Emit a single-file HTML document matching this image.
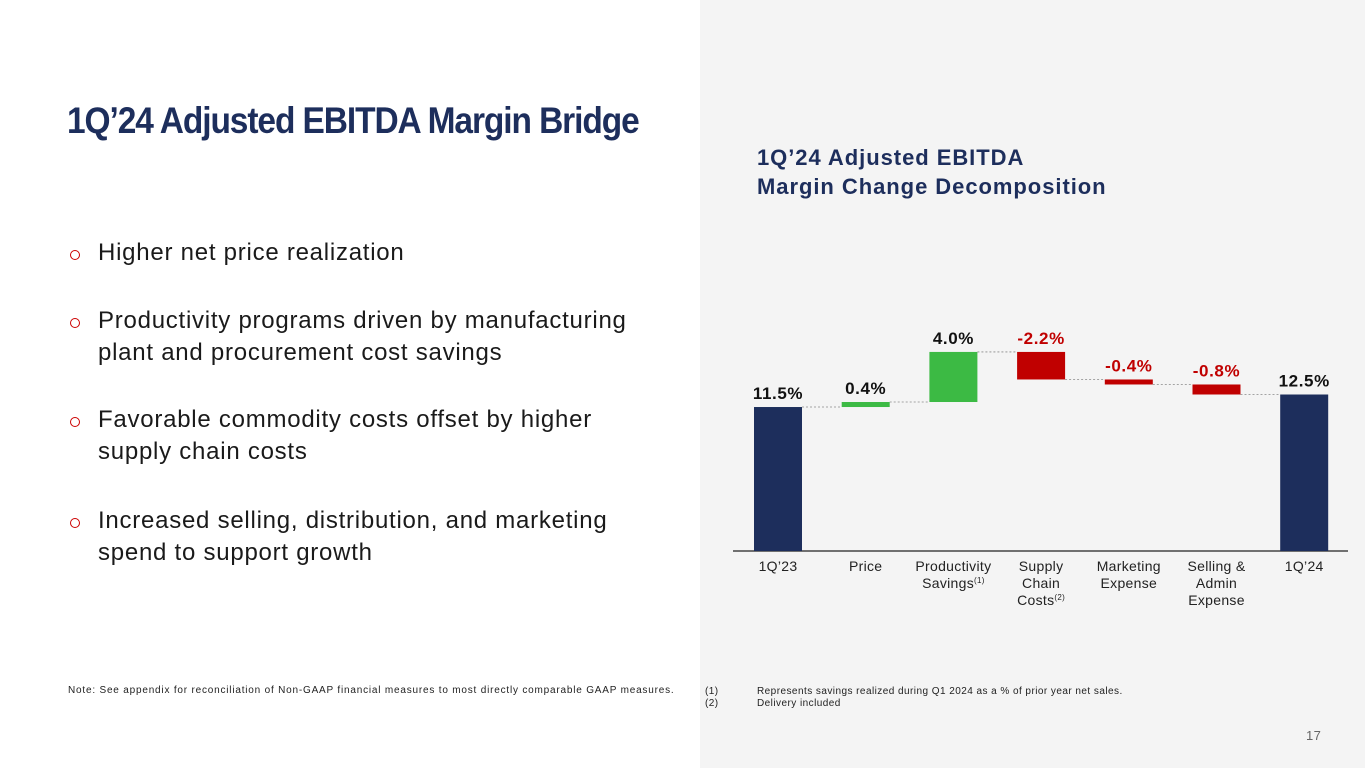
<!DOCTYPE html>
<html><head><meta charset="utf-8">
<style>
body{margin:0;width:1365px;height:768px;position:relative;overflow:hidden;font-family:"Liberation Sans",sans-serif;background:#fff}
#right{position:absolute;left:700px;top:0;width:665px;height:768px;background:#f4f4f4}
h1{position:absolute;left:67px;top:100px;margin:0;font-size:37px;font-weight:bold;color:#1d2e5c;letter-spacing:-1.2px;white-space:nowrap;transform:scaleX(0.905);transform-origin:left top}
.b{position:absolute;left:98px;font-size:24px;letter-spacing:0.75px;color:#1a1a1a;line-height:32px;white-space:nowrap}
.b:before{content:"";position:absolute;left:-28px;top:13px;width:8px;height:8px;border:1.3px solid #c00;border-radius:50%}
.ct{position:absolute;left:757px;top:143px;font-size:22px;font-weight:bold;color:#1d2e5c;line-height:29px;letter-spacing:0.95px}
.note{position:absolute;font-size:10px;color:#222;letter-spacing:0.45px;white-space:nowrap}
</style></head><body>
<div id="right"></div>
<h1>1Q’24 Adjusted EBITDA Margin Bridge</h1>
<div class="b" style="top:237px">Higher net price realization</div>
<div class="b" style="top:305px">Productivity programs driven by manufacturing<br>plant and procurement cost savings</div>
<div class="b" style="top:404px">Favorable commodity costs offset by higher<br>supply chain costs</div>
<div class="b" style="top:505px">Increased selling, distribution, and marketing<br>spend to support growth</div>
<div class="ct">1Q’24 Adjusted EBITDA<br>Margin Change Decomposition</div>
<div class="note" style="left:68px;top:685px;letter-spacing:0.8px">Note: See appendix for reconciliation of Non-GAAP financial measures to most directly comparable GAAP measures.</div>
<div class="note" style="left:705px;top:686px;line-height:12px">(1)<span style="position:absolute;left:52px">Represents savings realized during Q1 2024 as a % of prior year net sales.</span><br>(2)<span style="position:absolute;left:52px">Delivery included</span></div>
<div class="note" style="left:1306px;top:728px;font-size:13px;color:#666">17</div>
<svg id="chart" width="1365" height="768" style="position:absolute;left:0;top:0"></svg>
<script>
const categories=[["1Q’23"],["Price"],["Productivity","Savings"],["Supply","Chain","Costs"],["Marketing","Expense"],["Selling &","Admin","Expense"],["1Q’24"]];
const values=[11.5,0.4,4.0,-2.2,-0.4,-0.8,12.5];
const kinds=["total","delta","delta","delta","delta","delta","total"];
const labels=["11.5%","0.4%","4.0%","-2.2%","-0.4%","-0.8%","12.5%"];
const sups=["","","(1)","(2)","","",""];
const svg=document.getElementById('chart');const NS="http://www.w3.org/2000/svg";
const base=551,ppu=12.52,x0=754,step=87.7,bw=48;
const y=v=>base-v*ppu, x=i=>x0+i*step;
function el(t,a){const e=document.createElementNS(NS,t);for(const k in a)e.setAttribute(k,a[k]);svg.appendChild(e);return e;}
const ax=el('line',{x1:733,x2:1348,y1:base,y2:base,stroke:'#444','stroke-width':1.5});

let run=0;
values.forEach((v,i)=>{
 let lo,hi,col;
 if(kinds[i]=="total"){lo=0;hi=v;run=v;col='#1d2e5c';}
 else{const s=run;run=s+v;lo=Math.min(s,run);hi=Math.max(s,run);col=v>=0?'#3cba44':'#c00000';}
 const r=el('rect',{x:x(i),y:y(hi),width:bw,height:y(lo)-y(hi),fill:col});
 
 
 if(i<values.length-1){const l=el('line',{x1:x(i)+bw,x2:x(i+1),y1:y(run),y2:y(run),stroke:'#888','stroke-width':0.8,'stroke-dasharray':'2,2'});
  }
 const t=el('text',{x:x(i)+bw/2,y:y(hi)-8,'text-anchor':'middle','font-size':17,'font-weight':'bold','letter-spacing':0.6,fill:(kinds[i]=="delta"&&v<0)?'#c00000':'#111','font-family':'Liberation Sans, sans-serif'});
 t.textContent=labels[i];
 categories[i].forEach((ln,j)=>{
  const c=el('text',{x:x(i)+bw/2,y:571+j*17,'text-anchor':'middle','font-size':14,'letter-spacing':0.3,fill:'#222','font-family':'Liberation Sans, sans-serif'});
  c.textContent=ln;
  if(j==categories[i].length-1&&sups[i]){const s=document.createElementNS(NS,'tspan');s.setAttribute('font-size',8);s.setAttribute('dy',-5);s.textContent=sups[i];c.appendChild(s);}
  
 });
});
</script>
</body></html>
